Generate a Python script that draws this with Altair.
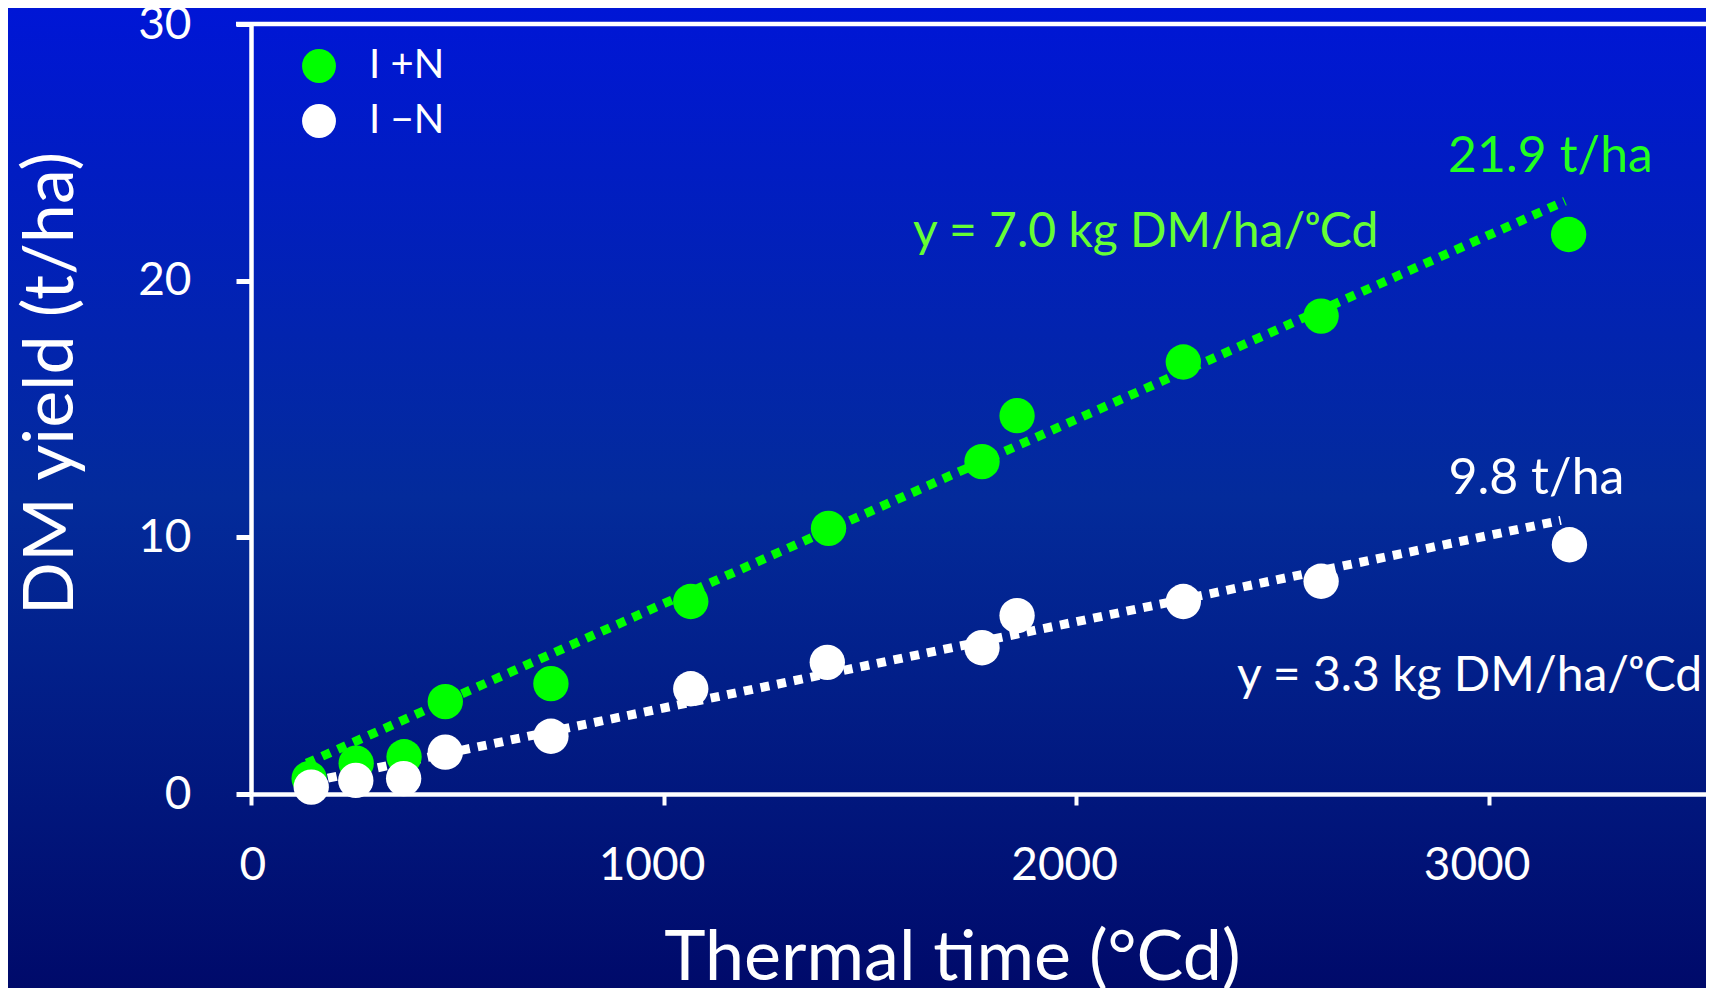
import altair as alt
import pandas as pd

# ---- data ----
tt_plus = [141, 255, 371, 471, 727, 1066, 1400, 1772, 1857, 2260, 2594, 3194]
dm_plus = [0.6, 1.2, 1.45, 3.6, 4.3, 7.5, 10.35, 12.95, 14.74, 16.83, 18.62, 21.8]
tt_minus = [146, 254, 370, 471, 727, 1066, 1397, 1772, 1857, 2260, 2594, 3196]
dm_minus = [0.27, 0.53, 0.6, 1.63, 2.25, 4.1, 5.13, 5.7, 6.95, 7.5, 8.29, 9.71]

fit_plus_x = [135, 3185]
fit_plus_y = [1.2, 23.1]
fit_minus_x = [146, 3175]
fit_minus_y = [0.48, 10.66]

series = ["I +N", "I \u2212N"]
colors = ["#00FF00", "#FFFFFF"]

ann_text = ["21.9 t/ha", "y = 7.0 kg DM/ha/\u1d52Cd", "9.8 t/ha", "y = 3.3 kg DM/ha/\u1d52Cd"]
ann_x = [3150, 1605, 3116, 2390]
ann_y = [24.24, 21.3, 11.67, 4.0]
ann_align = ["center", "left", "center", "left"]
ann_size = [50, 48, 50, 48]
ann_color = ["#22FF22", "#66FF33", "#FFFFFF", "#FFFFFF"]

FONT = "Lato"
W, H = 1455, 770
PAD = {"left": 243, "top": 16, "right": 0, "bottom": 194}

pts = pd.DataFrame({
    "tt": tt_plus + tt_minus,
    "dm": dm_plus + dm_minus,
    "trt": [series[0]] * len(tt_plus) + [series[1]] * len(tt_minus),
})
fits = pd.DataFrame({
    "tt": fit_plus_x + fit_minus_x,
    "dm": fit_plus_y + fit_minus_y,
    "trt": [series[0]] * 2 + [series[1]] * 2,
})
ann = pd.DataFrame({"t": ann_text, "x": ann_x, "y": ann_y, "al": ann_align,
                    "s": ann_size, "c": ann_color})

xs = alt.Scale(domain=[0, 3527], nice=False, zero=False)
ys = alt.Scale(domain=[0, 30], nice=False)
cs = alt.Scale(domain=series, range=colors)

bg = alt.Chart(pd.DataFrame({"a": [0]})).mark_rect(
    color=alt.Gradient(
        gradient="linear",
        stops=[
            alt.GradientStop(color="#0016D6", offset=0),
            alt.GradientStop(color="#032B9B", offset=0.5),
            alt.GradientStop(color="#000A6A", offset=1),
        ],
        x1=0, x2=0, y1=0, y2=1,
    )
).encode(
    x=alt.value(-PAD["left"]), x2=alt.value(W + 20),
    y=alt.value(-PAD["top"]), y2=alt.value(H + PAD["bottom"]),
)

xaxis = alt.Axis(
    values=[0, 1000, 2000, 3000], format="d", grid=False, zindex=2,
    domainColor="white", domainWidth=4.5, tickColor="white", tickWidth=4, tickSize=11,
    labelColor="white", labelFont=FONT, labelFontSize=46, labelPadding=38, labelOffset=-12,
    title="Thermal time (\u00b0Cd)", titleColor="white", titleFont=FONT, titleFontSize=70,
    titleFontWeight="normal", titleX=701, titleY=164, titleBaseline="middle", titleAnchor="middle",
)
yaxis = alt.Axis(
    values=[0, 10, 20, 30], grid=False, zindex=2,
    domainColor="white", domainWidth=4.5, tickColor="white", tickWidth=5, tickSize=15,
    labelColor="white", labelFont=FONT, labelFontSize=46, labelPadding=45,
    title="DM yield (t/ha)", titleColor="white", titleFont=FONT, titleFontSize=70,
    titleFontWeight="normal", titleX=-200, titleY=359, titleBaseline="middle", titleAnchor="middle",
)

top_line = alt.Chart(pd.DataFrame({"v": [30]})).mark_rule(color="white", strokeWidth=4.5).encode(
    y=alt.Y("v:Q", scale=ys), x=alt.value(-15), x2=alt.value(W + 5)
)

lines = alt.Chart(fits).mark_line(strokeWidth=9, strokeDash=[9, 8], strokeCap="butt").encode(
    x=alt.X("tt:Q", scale=xs, axis=xaxis),
    y=alt.Y("dm:Q", scale=ys, axis=yaxis),
    color=alt.Color("trt:N", scale=cs, legend=None),
    detail="trt:N",
)

points = alt.Chart(pts).mark_point(filled=True, opacity=1, size=1250, shape="circle").encode(
    x=alt.X("tt:Q", scale=xs),
    y=alt.Y("dm:Q", scale=ys),
    color=alt.Color(
        "trt:N", scale=cs, sort=series,
        legend=alt.Legend(
            title=None, orient="none", legendX=48, legendY=22, zindex=2,
            symbolSize=1150, symbolType="circle", symbolStrokeWidth=0, symbolOpacity=1,
            labelColor="white", labelFont=FONT, labelFontSize=40, labelOffset=30,
            rowPadding=15,
        ),
    ),
)

texts_left = alt.Chart(ann[ann.al == "left"]).mark_text(
    font=FONT, baseline="alphabetic", align="left"
).encode(
    x=alt.X("x:Q", scale=xs), y=alt.Y("y:Q", scale=ys), text="t:N",
    size=alt.Size("s:Q", scale=None, legend=None),
    color=alt.Color("c:N", scale=None),
)
texts_center = alt.Chart(ann[ann.al == "center"]).mark_text(
    font=FONT, baseline="alphabetic", align="center"
).encode(
    x=alt.X("x:Q", scale=xs), y=alt.Y("y:Q", scale=ys), text="t:N",
    size=alt.Size("s:Q", scale=None, legend=None),
    color=alt.Color("c:N", scale=None),
)

chart = alt.layer(bg, top_line, lines, points, texts_left, texts_center).resolve_scale(
    color="independent", size="independent"
).properties(
    width=W, height=H,
    autosize=alt.AutoSizeParams(type="none"),
    padding=PAD,
    background="#000A6A",
).configure_view(stroke=None)

chart.save("out.html", embed_options={"renderer": "svg", "actions": False})
